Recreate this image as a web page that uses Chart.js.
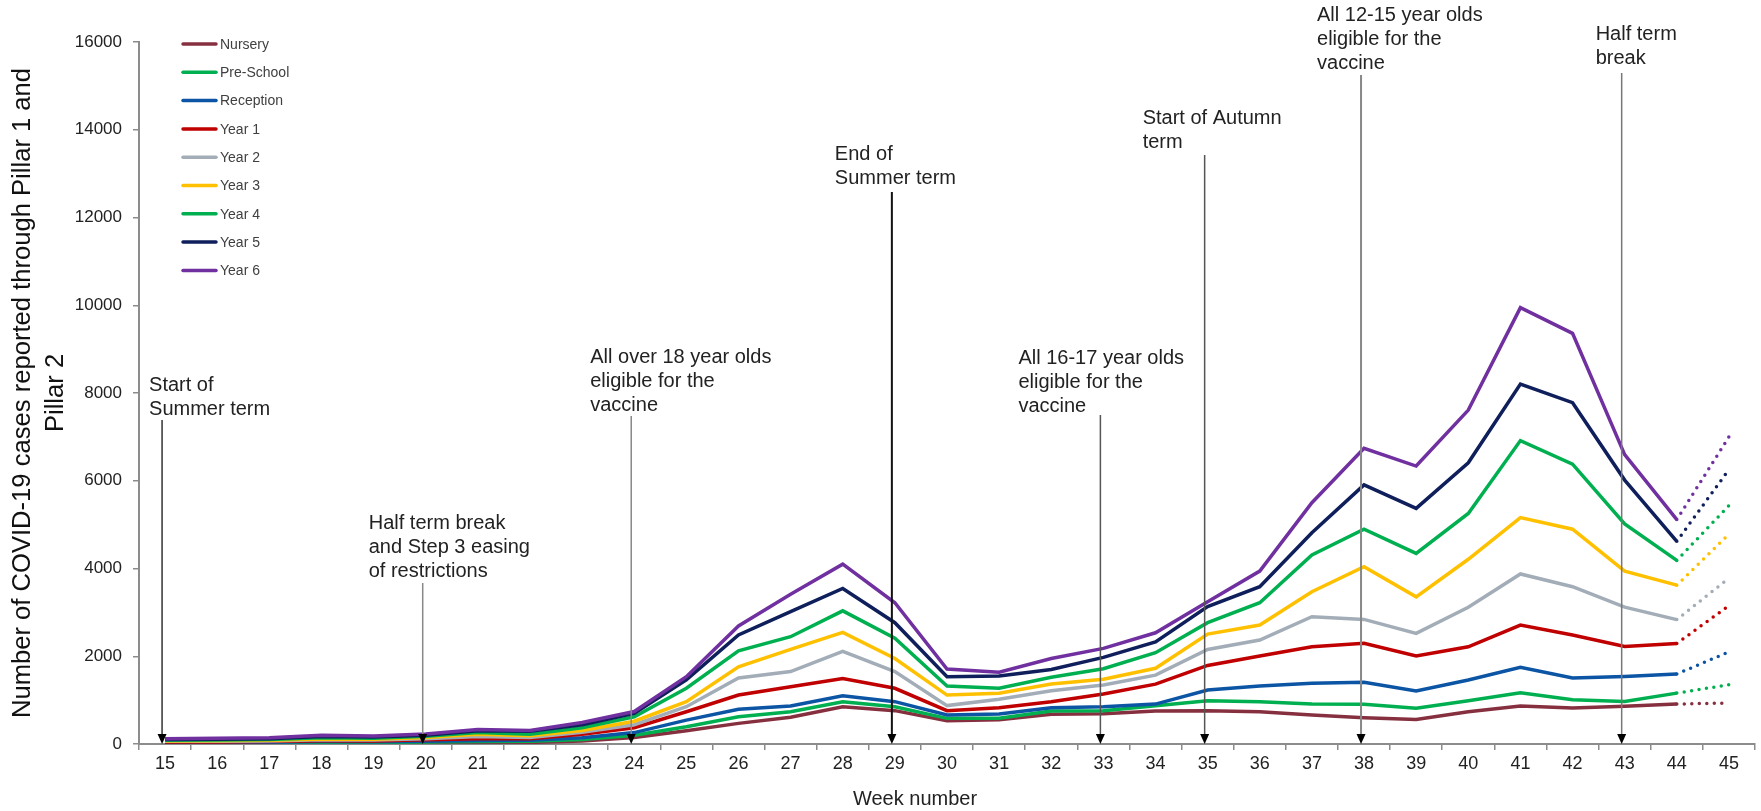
<!DOCTYPE html>
<html>
<head>
<meta charset="utf-8">
<script src="https://cdn.jsdelivr.net/npm/chart.js@4.4.1/dist/chart.umd.min.js"></script>
<style>
  html, body { margin: 0; padding: 0; background: #fff; }
</style>
</head>
<body>
<canvas id="chart" width="1761" height="811"></canvas>
<script>
// week numbers on the x axis
const weeks = ["15","16","17","18","19","20","21","22","23","24","25","26","27","28","29","30",
               "31","32","33","34","35","36","37","38","39","40","41","42","43","44","45"];

// cases per year group (last point = incomplete week, drawn dotted)
const nursery   = [10,10,15,20,20,25,30,35,70,150,300,470,610,850,760,530,550,680,690,750,760,735,660,600,560,735,865,820,860,910,935];
const preSchool = [20,20,25,35,35,45,55,60,100,200,395,620,735,965,850,585,585,750,760,870,985,965,910,905,815,985,1170,1010,970,1160,1350];
const reception = [30,30,40,55,50,65,80,85,140,260,545,790,865,1100,965,660,685,825,850,910,1230,1320,1385,1405,1210,1460,1750,1505,1540,1595,2100];
const year1     = [45,45,55,75,70,95,120,120,220,370,735,1115,1305,1490,1270,760,825,965,1140,1365,1790,2005,2215,2295,2005,2215,2710,2485,2225,2290,3155];
const year2     = [60,60,70,95,90,120,170,150,270,440,850,1505,1650,2110,1650,875,1020,1215,1345,1570,2155,2370,2900,2840,2520,3115,3875,3585,3120,2835,3780];
const year3     = [70,75,85,115,110,150,220,190,310,520,965,1760,2155,2545,1950,1115,1155,1365,1475,1725,2505,2710,3470,4040,3355,4210,5160,4895,3940,3620,4785];
const year4     = [85,90,100,140,130,175,260,220,370,620,1270,2125,2445,3035,2410,1320,1270,1520,1715,2080,2765,3220,4310,4895,4345,5255,6915,6380,5015,4185,5435];
const year5     = [100,110,120,170,160,200,300,290,440,700,1460,2485,3015,3545,2765,1535,1550,1700,1975,2325,3130,3585,4815,5905,5370,6410,8205,7780,6015,4620,6255];
const year6     = [120,130,140,200,180,230,330,310,490,740,1535,2690,3415,4100,3220,1710,1635,1950,2180,2535,3240,3940,5500,6740,6335,7610,9945,9360,6595,5115,7000];

const yTicks = [0, 2000, 4000, 6000, 8000, 10000, 12000, 14000, 16000];

const seriesNames  = ["Nursery","Pre-School","Reception","Year 1","Year 2","Year 3","Year 4","Year 5","Year 6"];
const seriesData   = [nursery, preSchool, reception, year1, year2, year3, year4, year5, year6];
const seriesColors = ["#86303f","#00b050","#0b55a4","#c00000","#a3adb8","#ffc000","#00b050","#0f1f5c","#7030a0"];

// event markers: week, text lines, where the text and the arrow start (in y units)
const events = [
  { week: "15", lines: ["Start of", "Summer term"], textY: 8160, lineTop: 7385, dx: -16, color: "#333", width: 1.5 },
  { week: "20", lines: ["Half term break", "and Step 3 easing", "of restrictions"], textY: 5020, lineTop: 3670, dx: -57, color: "#888", width: 1.5 },
  { week: "24", lines: ["All over 18 year olds", "eligible for the", "vaccine"], textY: 8820, lineTop: 7476, dx: -44, color: "#888", width: 1.5 },
  { week: "29", lines: ["End of", "Summer term"], textY: 13425, lineTop: 12580, dx: -60, color: "#111", width: 2 },
  { week: "33", lines: ["All 16-17 year olds", "eligible for the", "vaccine"], textY: 8798, lineTop: 7499, dx: -85, color: "#555", width: 1.5 },
  { week: "35", lines: ["Start of Autumn", "term"], textY: 14250, lineTop: 13425, dx: -65, color: "#555", width: 1.5 },
  { week: "38", lines: ["All 12-15 year olds", "eligible for the", "vaccine"], textY: 16615, lineTop: 15250, dx: -47, color: "#888", width: 2 },
  { week: "43", lines: ["Half term", "break"], textY: 16182, lineTop: 15293, dx: -29, color: "#777", width: 1.5 }
];

const FONT = '"Liberation Sans", Arial, sans-serif';
const lastIndex = weeks.length - 1;

const datasets = seriesNames.map(function (name, i) {
  return {
    label: name,
    data: seriesData[i],
    borderColor: seriesColors[i],
    backgroundColor: seriesColors[i],
    borderWidth: 3.5,
    pointRadius: 0,
    tension: 0,
    fill: false,
    segment: {
      borderDash: ctx => ctx.p1DataIndex === lastIndex ? [0, 7.5] : undefined,
      borderCapStyle: ctx => ctx.p1DataIndex === lastIndex ? "round" : undefined
    }
  };
}).reverse();

// ---------------------- LEGEND (top-left, inside the plot) ---------------------
const legendPlugin = {
  id: "sideLegend",
  afterDraw(chart) {
    const ctx = chart.ctx;
    const area = chart.chartArea;
    ctx.save();
    ctx.font = "14px " + FONT;
    ctx.textBaseline = "middle";
    ctx.textAlign = "left";
    seriesNames.forEach(function (name, i) {
      const y = area.top + 2 + i * 28.3;
      ctx.strokeStyle = seriesColors[i];
      ctx.lineWidth = 3.5;
      ctx.lineCap = "round";
      ctx.beginPath();
      ctx.moveTo(area.left + 44, y);
      ctx.lineTo(area.left + 77, y);
      ctx.stroke();
      ctx.fillStyle = "#404040";
      ctx.fillText(name, area.left + 81, y + 1);
    });
    ctx.restore();
  }
};

// ---------------------- EVENT ARROWS + X TITLE ---------------------
const eventPlugin = {
  id: "events",
  afterDatasetsDraw(chart) {
    const ctx = chart.ctx;
    const xs = chart.scales.x;
    const ys = chart.scales.y;
    ctx.save();
    events.forEach(function (ev) {
      const x = xs.getPixelForValue(weeks.indexOf(ev.week)) - 3;
      const top = ys.getPixelForValue(ev.lineTop);
      const bottom = ys.bottom;
      ctx.strokeStyle = ev.color;
      ctx.lineWidth = ev.width;
      ctx.beginPath();
      ctx.moveTo(x, top);
      ctx.lineTo(x, bottom - 8);
      ctx.stroke();
      ctx.fillStyle = "#000";
      ctx.beginPath();
      ctx.moveTo(x - 4.5, bottom - 10);
      ctx.lineTo(x + 4.5, bottom - 10);
      ctx.lineTo(x, bottom);
      ctx.closePath();
      ctx.fill();

      ctx.font = "20px " + FONT;
      ctx.fillStyle = "#222";
      ctx.textAlign = "left";
      ctx.textBaseline = "middle";
      const ty = ys.getPixelForValue(ev.textY);
      ev.lines.forEach(function (line, j) {
        ctx.fillText(line, x + 3 + ev.dx, ty + j * 24);
      });
    });

    // x axis title sits a little left of centre in the original
    ctx.font = "20px " + FONT;
    ctx.fillStyle = "#222";
    ctx.textAlign = "center";
    ctx.textBaseline = "middle";
    ctx.fillText("Week number", (xs.left + xs.right) / 2 - 32, chart.height - 12);
    ctx.restore();
  }
};

new Chart(document.getElementById("chart").getContext("2d"), {
  type: "line",
  data: { labels: weeks, datasets: datasets },
  plugins: [legendPlugin, eventPlugin],
  options: {
    responsive: false,
    animation: false,
    devicePixelRatio: 1,
    layout: { padding: { top: 42, right: 6, left: 0, bottom: 0 } },
    plugins: {
      legend: { display: false },
      tooltip: { enabled: false }
    },
    scales: {
      x: {
        type: "category",
        offset: true,
        afterFit(scale) { scale.height = 67; },
        grid: { offset: true, drawOnChartArea: false, drawTicks: true, tickLength: 6, color: "#8c8c8c", lineWidth: 1.5 },
        border: { color: "#8c8c8c", width: 2 },
        ticks: { color: "#222", font: { family: FONT, size: 18 }, padding: 3, maxRotation: 0, autoSkip: false }
      },
      y: {
        min: 0,
        max: 16000,
        afterFit(scale) { scale.width = 139; },
        afterBuildTicks(scale) { scale.ticks = yTicks.map(v => ({ value: v })); },
        grid: { drawOnChartArea: false, drawTicks: true, tickLength: 6, color: "#8c8c8c", lineWidth: 1.5 },
        border: { color: "#8c8c8c", width: 2 },
        ticks: { color: "#222", font: { family: FONT, size: 17 }, padding: 11, callback: v => String(v) },
        title: {
          display: true,
          text: ["Number of COVID-19 cases reported through Pillar 1 and", "Pillar 2"],
          color: "#111",
          font: { family: FONT, size: 25.6, lineHeight: 1.3 },
          padding: { top: 6, bottom: 0 }
        }
      }
    }
  }
});
</script>
</body>
</html>
